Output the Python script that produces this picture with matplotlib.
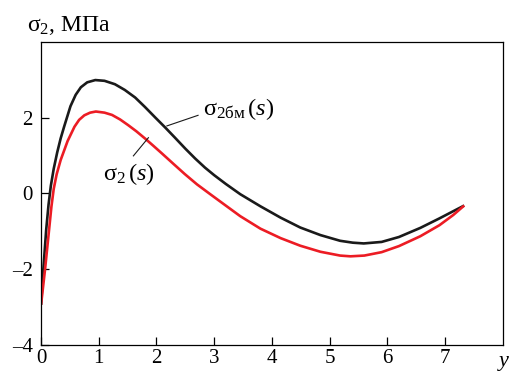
#!/usr/bin/env python3
"""
Stress curves sigma_2(s) and sigma_2bm(s) along y
"""

import matplotlib
matplotlib.use('Agg')
import matplotlib.pyplot as plt

# Values
y_black = [0.0, 0.04, 0.09, 0.13, 0.17, 0.22, 0.28, 0.34, 0.4, 0.51, 0.6, 0.69, 0.8, 0.94,
           1.1, 1.28, 1.45, 1.63, 1.8, 1.98, 2.15, 2.32, 2.5, 2.67, 2.84, 3.0,
           3.2, 3.45, 3.8, 4.15, 4.49, 4.84, 5.18, 5.4, 5.59, 5.9, 6.2, 6.57,
           6.9, 7.14, 7.33]
sigma_bm = [-2.94, -2.0, -0.95, -0.3, 0.2, 0.65, 1.08, 1.45, 1.76, 2.3, 2.6, 2.8, 2.93, 2.99,
            2.97, 2.88, 2.73, 2.53, 2.28, 2.0, 1.74, 1.47, 1.18, 0.92, 0.68, 0.48,
            0.25, -0.02, -0.34, -0.64, -0.9, -1.1, -1.25, -1.3, -1.32, -1.28, -1.15, -0.91,
            -0.66, -0.47, -0.32]

y_red = [0.0, 0.07, 0.14, 0.18, 0.22, 0.27, 0.34, 0.46, 0.58, 0.66, 0.75, 0.85, 0.95,
         1.1, 1.23, 1.37, 1.51, 1.65, 1.8, 1.95, 2.09, 2.3, 2.49, 2.7, 2.93,
         3.1, 3.45, 3.8, 4.15, 4.49, 4.84, 5.18, 5.36, 5.6, 5.9, 6.2, 6.57,
         6.9, 7.14, 7.33]
sigma_2 = [-2.94, -2.0, -0.95, -0.35, 0.12, 0.5, 0.88, 1.38, 1.76, 1.94, 2.06, 2.13, 2.16,
           2.13, 2.07, 1.95, 1.8, 1.64, 1.45, 1.25, 1.06, 0.77, 0.51, 0.24, -0.02,
           -0.21, -0.6, -0.93, -1.18, -1.38, -1.54, -1.64, -1.66, -1.64, -1.55, -1.39, -1.13,
           -0.84, -0.57, -0.32]

x_ticks = [0, 1, 2, 3, 4, 5, 6, 7]
y_ticks = [-4, -2, 0, 2]
y_tick_labels = ['\u20134', '\u20132', '0', '2']


def create_stress_chart():
    plt.rcParams['font.family'] = ['Liberation Serif', 'DejaVu Serif']
    plt.rcParams['mathtext.fontset'] = 'custom'
    plt.rcParams['mathtext.rm'] = 'Liberation Serif'
    plt.rcParams['mathtext.it'] = 'Liberation Serif:italic'

    fig = plt.figure(figsize=(5.09, 3.73), dpi=100)
    ax = fig.add_axes([0.0806, 0.075, 0.9074, 0.813])

    ax.plot(y_black, sigma_bm, color='#1a1a1a', lw=1.9, solid_capstyle='butt')
    ax.plot(y_red, sigma_2, color='#ec1c24', lw=1.9, solid_capstyle='butt')

    ax.set_xlim(0, 8)
    ax.set_ylim(-4, 4)
    ax.set_xticks(x_ticks)
    ax.set_yticks(y_ticks)
    ax.set_yticklabels(y_tick_labels)
    ax.tick_params(direction='in', length=5.5, width=0.9, labelsize=15)
    ax.tick_params(axis='y', pad=6)
    ax.tick_params(axis='x', pad=3)
    for sp in ax.spines.values():
        sp.set_linewidth(0.9)

    # curve labels with leader lines
    ax.plot([2.18, 2.72], [1.78, 2.06], color='#1a1a1a', lw=0.8)
    ax.text(2.8, 2.22, r'$\mathrm{σ}_{2\mathrm{бм}}\,\mathrm{(}s\mathrm{)}$', fontsize=17.5,
            va='center', ha='left')
    ax.plot([1.86, 1.6], [1.47, 0.99], color='#1a1a1a', lw=0.8)
    ax.text(1.08, 0.5, r'$\mathrm{σ}_{2}\,\mathrm{(}s\mathrm{)}$', fontsize=17.5,
            va='center', ha='left')

    fig.text(0.053, 0.918, r'$\mathrm{σ}_{2}$, МПа', fontsize=17, ha='left', va='baseline')
    fig.text(0.976, 0.0, r'$y$', fontsize=16, ha='left', va='bottom')

    fig.savefig('out.png', dpi=100)


if __name__ == "__main__":
    create_stress_chart()
